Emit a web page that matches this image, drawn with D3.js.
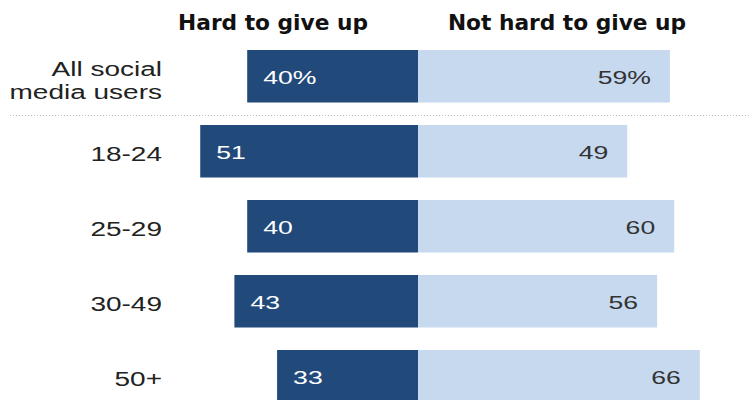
<!DOCTYPE html>
<html>
<head>
<meta charset="utf-8">
<script src="https://cdn.jsdelivr.net/npm/d3@7"></script>
<style>
	body { margin: 0; background: #fff; }
	svg text { font-family: "Liberation Sans", Arial, sans-serif; }
	.head { font-family: "DejaVu Sans Condensed", "Liberation Sans Narrow", sans-serif; font-weight: bold; }
</style>
</head>
<body>
<svg width="750" height="400"></svg>
<script>
'use strict';
// data
let aGroups = ["All social media users", "18-24", "25-29", "30-49", "50+"]
let aHard = [40, 51, 40, 43, 33]
let aNotHard = [59, 49, 60, 56, 66]
let aHeaders = ["Hard to give up", "Not hard to give up"]

let eSvg = d3.select("svg")
let dMid = 418
// the reference type is drawn wide, so stretch text sideways
let dStretch = 1.4

let tRows = aGroups.map((g, i) => ({group: g, hard: aHard[i], not: aNotHard[i], first: i === 0}))

let x = d3.scaleLinear().domain([-60, 70]).range([dMid - 60 * 4.27, dMid + 70 * 4.27])
let y = d3.scaleBand().domain(aGroups).range([38.75, 413.75]).paddingInner(0.3).paddingOuter(0.15)

// column headers
eSvg.selectAll("text.head").data(aHeaders).enter().append("text")
	.attr("class", "head")
	.attr("transform", (d, i) => `translate(${i === 0 ? 273 : 567},30) scale(1.15,1)`)
	.attr("text-anchor", "middle")
	.attr("font-size", 21)
	.attr("fill", "#111")
	.text(d => d)

// dotted separator under the total row
eSvg.append("line")
	.attr("x1", 10).attr("x2", 750)
	.attr("y1", 115.5).attr("y2", 115.5)
	.attr("stroke", "#bbb").attr("stroke-dasharray", "1,2")

let eRows = eSvg.selectAll("g.row").data(tRows).enter().append("g")
	.attr("class", "row")
	.attr("transform", d => `translate(0,${y(d.group)})`)

let bh = y.bandwidth()

eRows.append("rect")
	.attr("x", d => x(-d.hard)).attr("width", d => x(0) - x(-d.hard))
	.attr("height", bh).attr("fill", "#21497a")

eRows.append("rect")
	.attr("x", x(0)).attr("width", d => x(d.not) - x(0))
	.attr("height", bh).attr("fill", "#c6d9ef")

// value labels
eRows.append("text")
	.attr("transform", d => `translate(${x(-d.hard) + 16},${bh / 2 + 8}) scale(${dStretch},1)`)
	.attr("font-size", 19).attr("fill", "#fff")
	.text(d => d.first ? d.hard + "%" : d.hard)

eRows.append("text")
	.attr("transform", d => `translate(${x(d.not) - 19},${bh / 2 + 8}) scale(${dStretch},1)`)
	.attr("text-anchor", "end")
	.attr("font-size", 19).attr("fill", "#333")
	.text(d => d.first ? d.not + "%" : d.not)

// category labels, the total gets two lines
let eCat = eRows.append("text")
	.attr("transform", `translate(162,0) scale(${dStretch},1)`)
	.attr("text-anchor", "end")
	.attr("font-size", 20).attr("fill", "#222")
eCat.filter(d => !d.first).attr("y", bh / 2 + 10).text(d => d.group)
eCat.filter(d => d.first).selectAll("tspan").data(["All social", "media users"]).enter().append("tspan")
	.attr("x", 0).attr("y", (d, i) => bh / 2 + i * 23)
	.text(d => d)
</script>
</body>
</html>
